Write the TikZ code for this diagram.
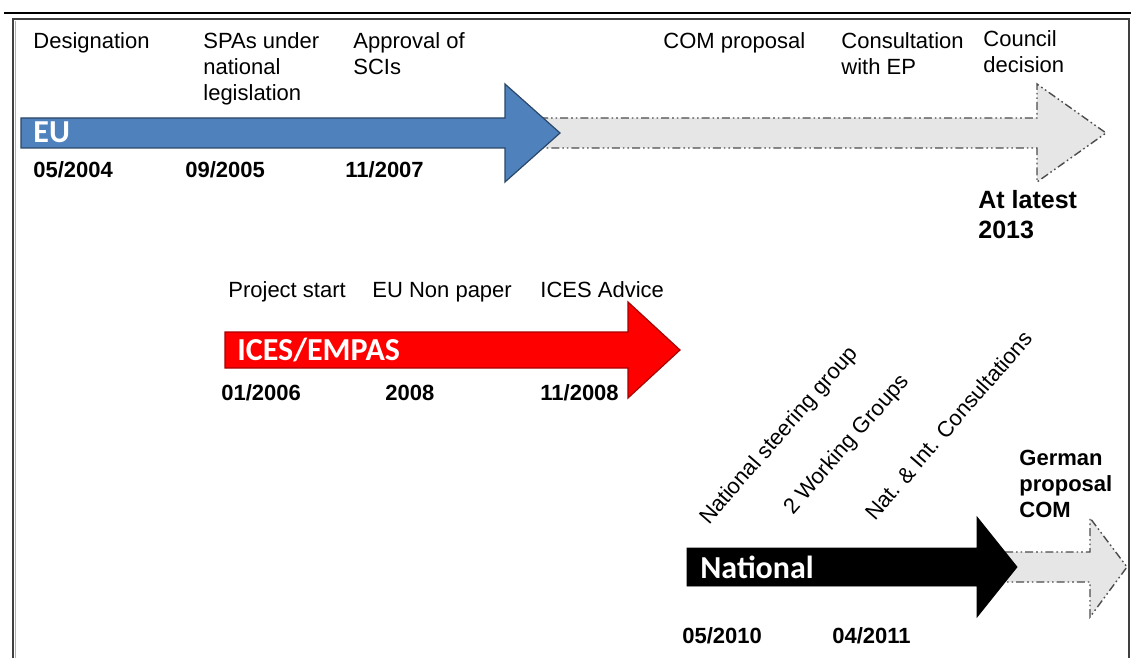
\documentclass[tikz,border=0pt]{standalone}
\usepackage{fontspec}
\setmainfont{Liberation Sans}
\newfontfamily\barfont{Carlito}
\definecolor{eublue}{RGB}{79,129,189}
\definecolor{latergray}{RGB}{230,230,230}

\begin{document}
\begin{tikzpicture}[x=0.5pt,y=-0.5pt,
    lbl/.style={anchor=base west,inner sep=0pt,align=left,font=\fontsize{11}{13}\selectfont},
    datelbl/.style={lbl,font=\fontsize{11}{13}\selectfont\bfseries},
    bartext/.style={anchor=base west,inner sep=0pt,text=white,font=\fontsize{16}{19}\selectfont\barfont\bfseries},
    later/.style={fill=latergray,draw=black!70,line width=0.7pt,
      dash pattern=on 4pt off 1.5pt on 0.8pt off 1.5pt on 0.8pt off 1.5pt}]
  \useasboundingbox (0,0) rectangle (1131,658);
  \draw [line width=1pt] (4,13) -- (1131,13);
  \draw [black!75,line width=0.6pt] (13,670) |- (1129,19) -- (1129,670);
  \draw [black!30,line width=0.6pt] (15.5,670) -- (15.5,21);

  % EU (base of a multi-line label = its last line)
  \draw [later] (540,118) -- (1037,118) -- (1037,84) -- (1106,133) -- (1037,182) -- (1037,148) -- (540,148);
  \draw [fill=eublue,draw=eublue!55!black,line width=0.6pt] (21,118) -- (505,118) -- (505,84) -- (560,133)
    -- (505,182) -- (505,148) -- (21,148) -- cycle;
  \node [bartext] (eu) at (33,143) {EU};
  \node [lbl] (desig) at (33,49) {Designation};
  \node [lbl] (spa) at (203,101) {SPAs under\\national\\legislation};
  \node [lbl] (sci) at (353,75) {Approval of\\SCIs};
  \node [lbl] (com) at (663,49) {COM proposal};
  \node [lbl] (ep) at (841,75) {Consultation\\with EP};
  \node [lbl] (council) at (983,73) {Council\\decision};
  \node [datelbl] (d2004) at (33,177) {05/2004};
  \node [datelbl] (d2005) at (185,177) {09/2005};
  \node [datelbl] (d2007) at (345,177) {11/2007};
  \node [datelbl,font=\fontsize{12.5}{15}\selectfont\bfseries] (d2013) at (978,238) {At latest\\2013};

  % ICES/EMPAS
  \draw [fill=red,draw=red!65!black,line width=0.6pt] (225,332) -- (628,332) -- (628,302) -- (680,350)
    -- (628,398) -- (628,368) -- (225,368) -- cycle;
  \node [bartext] (ices) at (237,360) {ICES/EMPAS};
  \node [lbl] (start) at (228,298) {Project start};
  \node [lbl] (nonpaper) at (372,297) {EU Non paper};
  \node [lbl] (advice) at (540,297) {ICES Advice};
  \node [datelbl] (d2006) at (221,400) {01/2006};
  \node [datelbl] (d2008) at (385,400) {2008};
  \node [datelbl] (d2008b) at (540,400) {11/2008};

  % National
  \draw [later] (1005,552) -- (1090,552) -- (1090,518) -- (1127,567) -- (1090,617) -- (1090,582) -- (1005,582);
  \draw [fill=black] (687,548) -- (977,548) -- (977,517) -- (1017,567) -- (977,617) -- (977,586) -- (687,586) -- cycle;
  \node [bartext] (nat) at (700,578) {National};
  \node [lbl,rotate=49] (steer) at (709,526) {National steering group};
  \node [lbl,rotate=49] (wg) at (793,516) {2 Working Groups};
  \node [lbl,rotate=49] (consult) at (875,522) {Nat. \& Int. Consultations};
  \node [datelbl] (german) at (1019,517) {German\\proposal\\COM};
  \node [datelbl] (d2010) at (682,643) {05/2010};
  \node [datelbl] (d2011) at (832,643) {04/2011};
\end{tikzpicture}
\end{document}
